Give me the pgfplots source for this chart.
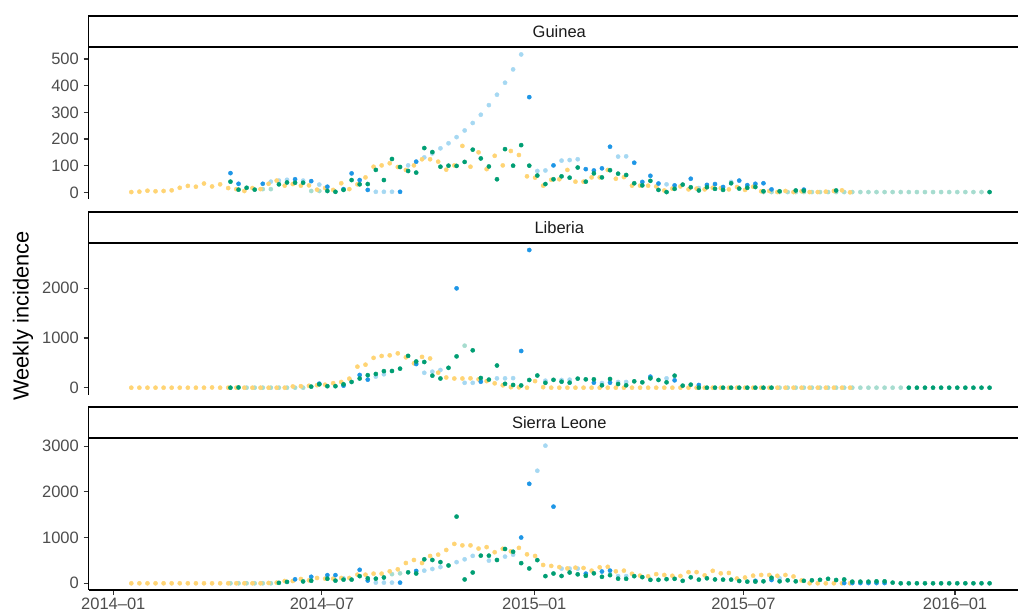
\documentclass[border=0pt]{standalone}
\usepackage{fontspec}
\setmainfont{Liberation Sans}
\usepackage{pgfplots}
\usepackage{pgfplotstable}
\pgfplotsset{compat=1.18}
\definecolor{cY}{HTML}{FFD474}
\definecolor{cG}{HTML}{009E73}
\definecolor{cB}{HTML}{1E96E6}
\definecolor{cL}{HTML}{A6D8F2}
\definecolor{cP}{HTML}{A6DCCF}
\definecolor{g30}{HTML}{4D4D4D}
\definecolor{g20}{HTML}{333333}
\definecolor{g10}{HTML}{1A1A1A}

% w = week index, Y = yellow, G = green, B = blue, L = light blue, P = pale teal
\pgfplotstableread{
w Y G B L P
0 1 nan nan nan nan
1 2.5 nan nan nan nan
2 6 nan nan nan nan
3 4 nan nan nan nan
4 5 nan nan nan nan
5 7.5 nan nan nan nan
6 17 nan nan nan nan
7 24 nan nan nan nan
8 21 nan nan nan nan
9 33 nan nan nan nan
10 22 nan nan nan nan
11 30 nan nan nan nan
12 16 40 72 nan nan
13 12 10 32 nan nan
14 5 17 nan nan nan
15 16 10 nan nan nan
16 12 nan 32 nan 12
17 32 nan nan 40 12
18 44 30 nan 44 nan
19 25 37 nan 47 nan
20 31 36 49 nan nan
21 25 36 nan 44 nan
22 26 nan 42 nan 5
23 10 nan nan 29 5
24 16 5 21 nan nan
25 9 2 nan nan nan
26 34 9 12 nan nan
27 12 46 71 nan nan
28 30 30 46 nan nan
29 56 31 9 nan nan
30 96 84 nan 2 nan
31 101 46 nan 2 nan
32 109 125 nan 2 nan
33 95 95 2 nan nan
34 84 80 nan 101 nan
35 101 74 115 nan nan
36 124 166 nan 131 nan
37 124 151 nan 146 nan
38 115 96 nan 165 nan
39 85 100 nan 184 nan
40 101 99 nan 207 nan
41 174 114 nan 232 nan
42 96 160 nan 260 nan
43 150 127 nan 291 nan
44 87 97 nan 327 nan
45 137 49 nan 366 nan
46 101 162 nan 411 nan
47 155 100 nan 461 nan
48 140 177 nan 517 nan
49 60 100 357 nan nan
50 55 63 nan 80 nan
51 25 31 nan 82 nan
52 47 49 101 nan nan
53 49 60 nan 119 nan
54 84 55 nan 121 nan
55 40 93 nan 124 nan
56 40 40 87 nan nan
57 56 71 82 nan nan
58 56 56 90 nan nan
59 84 83 171 nan nan
60 51 70 nan 134 nan
61 57 65 nan 135 nan
62 25 34 111 nan nan
63 25 26 39 nan nan
64 25 43 62 nan nan
65 22 9 33 nan nan
66 7 1 nan 30 nan
67 14 13 26 nan nan
68 22 29 nan nan nan
69 11 19 51 nan nan
70 14 7 nan 16 nan
71 11 19 28 nan nan
72 17 13 31 nan nan
73 16 9 20 nan nan
74 11 34 nan 39 nan
75 20 14 44 nan nan
76 9 17 27 nan nan
77 21 20 32 nan nan
78 4 4 34 nan 1
79 5 nan 11 nan 1
80 1 4 nan nan 1
81 5 nan nan nan 1
82 1 7 nan nan 1
83 4 6 10 nan 1
84 1 nan nan nan 1
85 1 nan nan nan 1
86 2.5 nan nan nan 1
87 5 7 nan nan 1
88 7.5 nan nan nan 1
89 0 nan nan nan 1
90 nan nan nan nan 1
91 nan nan nan nan 1
92 nan nan nan nan 1
93 nan nan nan nan 1
94 nan nan nan nan 1
95 nan nan nan nan 1
96 nan nan nan nan 1
97 nan nan nan nan 1
98 nan nan nan nan 1
99 nan nan nan nan 1
100 nan nan nan nan 1
101 nan nan nan nan 1
102 nan nan nan nan 1
103 nan nan nan nan 1
104 nan nan nan nan 1
105 nan nan nan nan 1
106 nan 1 nan nan nan
}\gu

\pgfplotstableread{
w Y G B L P
0 0 nan nan nan nan
1 0 nan nan nan nan
2 0 nan nan nan nan
3 0 nan nan nan nan
4 0 nan nan nan nan
5 0 nan nan nan nan
6 0 nan nan nan nan
7 0 nan nan nan nan
8 0 nan nan nan nan
9 0 nan nan nan nan
10 5 nan nan nan nan
11 0 nan nan nan nan
12 0 0 nan nan nan
13 0 5 nan nan nan
14 0 nan nan nan 0
15 0 nan nan nan 0
16 0 nan nan nan 0
17 0 nan nan nan 0
18 0 nan nan nan 0
19 0 nan nan nan 0
20 25 nan nan nan 0
21 30 nan nan nan 0
22 38 21 nan nan nan
23 50 68 81 nan nan
24 60 30 nan nan nan
25 90 30 nan nan nan
26 115 68 41 nan nan
27 182 115 nan nan nan
28 423 185 256 nan nan
29 463 252 162 nan nan
30 600 276 nan 222 nan
31 638 333 nan 270 nan
32 651 336 nan nan nan
33 691 383 nan nan nan
34 611 640 nan nan nan
35 490 527 476 nan nan
36 620 517 nan 300 nan
37 588 242 nan 322 nan
38 302 185 nan 356 nan
39 205 400 nan nan nan
40 185 630 1999 nan nan
41 185 nan nan 98 845
42 188 752 nan 98 nan
43 168 195 120 nan nan
44 132 162 nan nan nan
45 88 446 nan 188 nan
46 48 78 nan 188 nan
47 10 55 nan 192 nan
48 7 45 738 nan nan
49 0 155 2770 nan nan
50 132 245 nan nan nan
51 10 98 nan 141 nan
52 0 158 nan nan nan
53 0 120 nan 155 nan
54 0 101 nan 161 nan
55 0 182 nan nan nan
56 0 168 nan nan nan
57 0 168 101 nan nan
58 0 48 nan 94 nan
59 0 175 101 nan nan
60 0 74 nan 115 nan
61 0 48 nan 115 nan
62 0 128 nan nan nan
63 0 108 nan nan nan
64 0 188 222 nan nan
65 0 155 nan nan nan
66 0 108 nan 188 nan
67 0 242 148 nan nan
68 0 41 nan nan nan
69 0 61 nan nan nan
70 0 0 54 nan nan
71 0 0 nan nan nan
72 0 0 nan nan nan
73 0 0 nan nan nan
74 0 0 nan nan nan
75 0 0 nan nan nan
76 0 0 nan nan nan
77 0 0 nan nan nan
78 0 0 nan nan nan
79 0 0 nan nan nan
80 0 nan nan nan 0
81 0 nan nan nan 0
82 0 nan nan nan 0
83 0 nan nan nan 0
84 0 nan nan nan 0
85 0 nan nan nan 0
86 0 nan nan nan 0
87 0 nan nan nan 0
88 0 nan nan nan 0
89 0 nan nan nan 0
90 nan nan nan nan 0
91 nan nan nan nan 0
92 nan nan nan nan 0
93 nan nan nan nan 0
94 nan nan nan nan 0
95 nan nan nan nan 0
96 nan 0 nan nan nan
97 nan 0 nan nan nan
98 nan 0 nan nan nan
99 nan 0 nan nan nan
100 nan 0 nan nan nan
101 nan 0 nan nan nan
102 nan 0 nan nan nan
103 nan 0 nan nan nan
104 nan 0 nan nan nan
105 nan 0 nan nan nan
106 nan 0 nan nan nan
}\li

\pgfplotstableread{
w Y G B L P
0 0 nan nan nan nan
1 0 nan nan nan nan
2 0 nan nan nan nan
3 0 nan nan nan nan
4 0 nan nan nan nan
5 0 nan nan nan nan
6 0 nan nan nan nan
7 0 nan nan nan nan
8 0 nan nan nan nan
9 0 nan nan nan nan
10 0 nan nan nan nan
11 0 nan nan nan nan
12 0 nan nan nan 0
13 0 nan nan nan 0
14 0 nan nan nan 0
15 0 nan nan nan 0
16 0 nan nan nan 0
17 7 nan nan nan 0
18 14 10 nan nan nan
19 50 30 nan nan nan
20 50 nan 87 nan nan
21 94 40 nan nan nan
22 65 55 142 nan nan
23 116 nan nan nan nan
24 101 100 178 nan nan
25 101 58 178 nan nan
26 116 80 nan 109 nan
27 116 80 nan nan nan
28 189 156 295 nan nan
29 189 109 60 nan nan
30 211 101 nan 14 nan
31 211 127 nan 14 nan
32 262 nan nan 14 200
33 306 nan 14 nan 218
34 444 240 nan nan nan
35 510 214 270 nan nan
36 444 525 nan 277 nan
37 598 510 nan 313 nan
38 627 463 nan 355 nan
39 729 390 nan nan nan
40 862 1460 nan 463 nan
41 830 84 nan 525 nan
42 830 236 nan 600 nan
43 760 605 nan nan nan
44 792 605 nan 496 nan
45 680 510 nan nan nan
46 755 751 nan 584 nan
47 700 690 nan 627 nan
48 776 441 1002 nan nan
49 634 324 2178 nan nan
50 598 507 nan 2464 nan
51 401 156 nan 3013 nan
52 380 214 1678 nan nan
53 355 160 nan 321 nan
54 325 236 nan 321 nan
55 342 196 nan 321 nan
56 335 164 211 nan nan
57 277 218 nan nan nan
58 350 142 258 nan nan
59 360 178 277 nan nan
60 262 101 nan 157 nan
61 277 98 nan 157 nan
62 208 156 nan nan nan
63 167 134 nan nan nan
64 153 76 nan nan nan
65 200 76 nan nan nan
66 182 90 nan nan nan
67 164 98 nan nan nan
68 160 54 nan nan nan
69 244 131 nan nan nan
70 244 80 nan nan nan
71 174 109 nan nan nan
72 273 84 nan nan nan
73 218 80 nan nan nan
74 226 80 nan nan nan
75 105 50 nan nan nan
76 127 36 nan nan nan
77 167 36 54 nan nan
78 182 43 nan nan nan
79 182 120 72 nan nan
80 164 43 nan 109 nan
81 182 65 nan nan nan
82 149 43 nan nan nan
83 62 54 nan nan nan
84 0 65 nan nan nan
85 0 76 nan nan nan
86 0 98 nan nan nan
87 0 72 nan nan nan
88 0 84 5 nan nan
89 0 36 5 nan nan
90 nan 36 5 nan nan
91 nan 36 5 nan nan
92 nan 43 5 nan nan
93 nan 43 5 nan nan
94 nan 14 nan nan nan
95 nan 0 nan nan nan
96 nan 0 nan nan nan
97 nan 0 nan nan nan
98 nan 0 nan nan nan
99 nan 0 nan nan nan
100 nan 0 nan nan nan
101 nan 0 nan nan nan
102 nan 0 nan nan nan
103 nan 0 nan nan nan
104 nan 0 nan nan nan
105 nan 0 nan nan nan
106 nan 0 nan nan nan
}\sl

\pgfplotsset{
  panel/.style={
    scale only axis, width=941.6pt, height=152pt,
    xmin=-5.3, xmax=111.3, anchor=south west,
    axis y line*=left,
    axis line style={-, black, line width=1.1pt},
    tick align=outside, major tick length=5pt,
    tick style={g20, line width=1.1pt},
    ticklabel style={font=\fontsize{16.5}{18}\selectfont, text=g30},
    yticklabel style={inner sep=0pt, xshift=-4.5pt},
    /pgf/number format/assume math mode=true,
    /pgf/number format/1000 sep={},
    scaled y ticks=false,
  },
  dot/.style={only marks, mark=*, color=#1, mark size=2.1pt, mark options={solid, fill=#1, draw=#1}},
}
\newcommand{\series}[1]{%
  \addplot[dot=cP] table[x expr=\thisrow{w}+0.28, y=P]{#1};
  \addplot[dot=cL] table[x expr=\thisrow{w}+0.28, y=L]{#1};
  \addplot[dot=cY] table[x=w, y=Y]{#1};
  \addplot[dot=cB] table[x expr=\thisrow{w}+0.28, y=B]{#1};
  \addplot[dot=cG] table[x expr=\thisrow{w}+0.28, y=G]{#1};
}

\begin{document}
\begin{tikzpicture}
\begin{axis}[panel, name=gu, at={(88.5pt,414pt)}, axis x line=none,
  ymin=-25, ymax=545, ytick={0,100,200,300,400,500}]
\series{\gu}
\end{axis}
\begin{axis}[panel, name=li, at={(88.5pt,218pt)}, axis x line=none,
  ymin=-147, ymax=2911, ytick={0,1000,2000}]
\series{\li}
\end{axis}
\begin{axis}[panel, name=sl, at={(88.5pt,23pt)}, axis x line*=bottom,
  ymin=-147, ymax=3181, ytick={0,1000,2000,3000},
  xtick={-2.23,23.6,49.9,75.8,102.0},
  xticklabels={2014–01,2014–07,2015–01,2015–07,2016–01},
  xticklabel style={inner sep=0pt, anchor=north, yshift=-3pt}]
\series{\sl}
\end{axis}
\foreach \ax/\lab in {gu/Guinea, li/Liberia, sl/Sierra Leone}{
  \draw[line width=1.3pt, fill=white] (\ax.north west) rectangle ([xshift=20pt,yshift=31pt]\ax.north east);
  \node[font=\fontsize{16.5}{18}\selectfont, text=g10] at ([yshift=15.5pt]\ax.north) {\lab};
}
\node[rotate=90, font=\fontsize{21.8}{25}\selectfont] at (23pt,297pt) {Weekly incidence};
\pgfresetboundingbox
\useasboundingbox (0,0) rectangle (1018pt,613pt);
\end{tikzpicture}
\end{document}
